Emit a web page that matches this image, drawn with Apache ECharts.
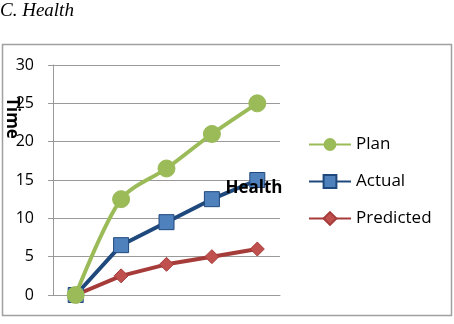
<!DOCTYPE html>
<html><head><meta charset="utf-8">
<script src="https://cdn.jsdelivr.net/npm/echarts@6/dist/echarts.min.js"></script>
<style>html,body{margin:0;padding:0;background:#fff}#c{width:454px;height:324px}</style>
</head><body><div id="c"></div>
<script>
const categories = ['1', '2', '3', '4', '5'];
const plan = [0, 12.5, 16.5, 21, 25];
const actual = [0, 6.5, 9.5, 12.5, 15];
const predicted = [0, 2.5, 4, 5, 6];
const yTicks = [0, 5, 10, 15, 20, 25, 30];

const chart = echarts.init(document.getElementById('c'), null, {renderer: 'canvas'});
const font = '"Open Sans", "Noto Sans", sans-serif';
chart.setOption({
  animation: false,
  backgroundColor: '#fff',
  grid: {left: 53, right: 174, top: 65, bottom: 29},
  graphic: [
    {type: 'rect', shape: {x: 2.5, y: 44.5, width: 449, height: 271}, style: {fill: 'none', stroke: '#a0a0a0', lineWidth: 1.5}, z: -1},
    {type: 'text', left: 0, top: 1, style: {text: 'C. Health', font: 'italic 19px "Liberation Serif", serif', fill: '#000'}},
    {type: 'text', x: 12, y: 118, rotation: -Math.PI / 2, style: {text: 'Time', font: 'bold 17px ' + font, fill: '#000', align: 'center', verticalAlign: 'middle'}, z: 10},
    {type: 'text', x: 254, y: 188, style: {text: 'Health', font: 'bold 17px ' + font, fill: '#000', align: 'center', verticalAlign: 'middle'}, z: 10}
  ],
  legend: {
    orient: 'vertical', left: 303, top: 131, itemGap: 20, itemWidth: 42, itemHeight: 16,
    textStyle: {fontFamily: font, fontSize: 17, color: '#000'},
    data: ['Plan', 'Actual', 'Predicted']
  },
  xAxis: {
    type: 'category', data: categories, boundaryGap: true,
    axisLine: {show: true, lineStyle: {color: '#9a9a9a'}},
    axisTick: {show: false}, axisLabel: {show: false}, splitLine: {show: false}
  },
  yAxis: {
    type: 'value', min: 0, max: 30, interval: 5,
    axisLine: {show: true, lineStyle: {color: '#9a9a9a'}},
    axisTick: {show: true, length: 5, lineStyle: {color: '#9a9a9a'}},
    axisLabel: {fontFamily: font, fontSize: 16, color: '#000', margin: 19,
      formatter: v => yTicks.includes(v) ? String(v) : ''},
    splitLine: {show: true, lineStyle: {color: '#9a9a9a', width: 1}}
  },
  series: [
    {name: 'Predicted', type: 'line', data: predicted, symbol: 'diamond', symbolSize: 14,
      lineStyle: {color: '#a63c3a', width: 4}, itemStyle: {color: '#c0504d', borderColor: '#a63c3a', borderWidth: 1}, z: 2},
    {name: 'Actual', type: 'line', data: actual, symbol: 'rect', symbolSize: 15,
      lineStyle: {color: '#1f497d', width: 4}, itemStyle: {color: '#4f81bd', borderColor: '#1f497d', borderWidth: 1}, z: 3},
    {name: 'Plan', type: 'line', data: plan, symbol: 'circle', symbolSize: 17, smooth: 0.3,
      lineStyle: {color: '#9bbb59', width: 4}, itemStyle: {color: '#9bbb59', borderColor: '#9bbb59'}, z: 4}
  ]
});
</script></body></html>
